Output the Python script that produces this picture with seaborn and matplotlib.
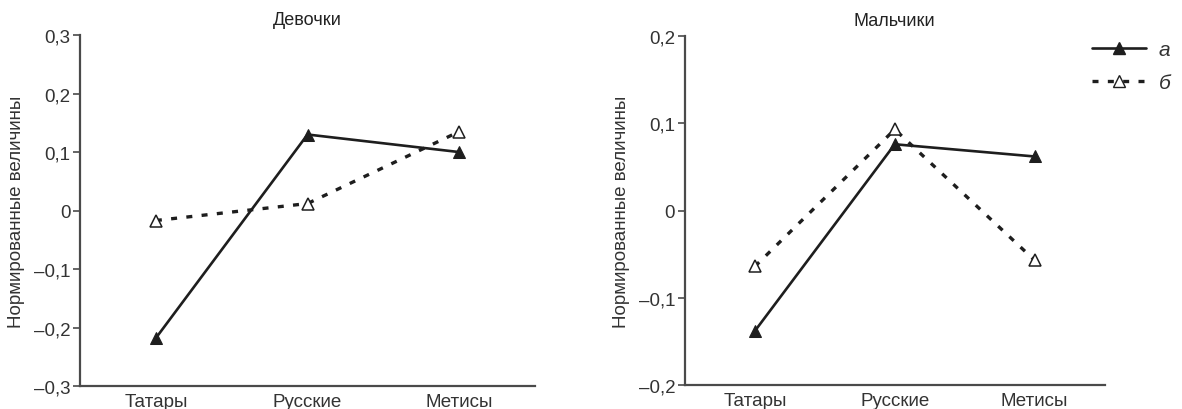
import pandas as pd
import matplotlib.pyplot as plt
import matplotlib.ticker as ticker
import seaborn as sns
from matplotlib.lines import Line2D

# Нормированные величины по группам (а — сплошная, б — пунктир)
groups = ["Татары", "Русские", "Метисы"]
girls_a = [-0.218, 0.130, 0.100]
girls_b = [-0.017, 0.012, 0.135]
boys_a = [-0.138, 0.076, 0.062]
boys_b = [-0.064, 0.093, -0.057]

sns.set_style("white")
plt.rcParams["font.family"] = ["Liberation Sans", "DejaVu Sans"]

INK = "#1e1e1e"
GRAY = "#4a4a4a"
FS = 13.5
MS = 9


def fmt(v, _):
    if abs(v) < 1e-9:
        return "0"
    s = f"{abs(v):.1f}".replace(".", ",")
    return ("–" if v < 0 else "") + s


def draw(ax, a, b, title, lim, step):
    df_a = pd.DataFrame({"group": groups, "value": a})
    df_b = pd.DataFrame({"group": groups, "value": b})
    sns.lineplot(data=df_b, x="group", y="value", ax=ax, color=INK, lw=2.4,
                 linestyle=(0, (1.8, 2.8)), marker="^", markersize=MS,
                 markerfacecolor="white", markeredgecolor=INK, markeredgewidth=1.1)
    sns.lineplot(data=df_a, x="group", y="value", ax=ax, color=INK, lw=1.9,
                 marker="^", markersize=MS, markerfacecolor=INK,
                 markeredgecolor=INK)
    ax.set_xlim(-0.5, 2.5)
    ax.set_ylim(-lim, lim)
    ax.yaxis.set_major_locator(ticker.MultipleLocator(step))
    ax.yaxis.set_major_formatter(ticker.FuncFormatter(fmt))
    ax.set_title(title, fontsize=13, color="#222", pad=8)
    ax.set_xlabel("")
    ax.set_ylabel("Нормированные величины", fontsize=FS, color="#333", labelpad=6)
    for s in ["top", "right"]:
        ax.spines[s].set_visible(False)
    for s in ["left", "bottom"]:
        ax.spines[s].set_color(GRAY)
        ax.spines[s].set_linewidth(1.6)
    ax.tick_params(axis="y", direction="out", length=5, width=1.2, color=GRAY,
                   labelsize=FS, labelcolor="#333", left=True, pad=2)
    ax.tick_params(axis="x", length=0, labelsize=FS, labelcolor="#333", pad=5)


fig = plt.figure(figsize=(11.82, 4.10), dpi=100)
ax1 = fig.add_axes([0.0677, 0.056, 0.385, 0.856])
ax2 = fig.add_axes([0.5795, 0.0585, 0.355, 0.851])

draw(ax1, girls_a, girls_b, "Девочки", 0.3, 0.1)
draw(ax2, boys_a, boys_b, "Мальчики", 0.2, 0.1)

handles = [
    Line2D([], [], color=INK, lw=1.9, marker="^", markersize=MS, markerfacecolor=INK),
    Line2D([], [], color=INK, lw=2.4, linestyle=(0, (1.8, 2.8)), marker="^",
           markersize=MS, markerfacecolor="white"),
]
leg = fig.legend(handles, ["а", "б"], loc="upper right", bbox_to_anchor=(1.006, 0.945),
                 frameon=False, handlelength=2.6, labelspacing=0.68, fontsize=15,
                 handletextpad=0.6)
for t in leg.get_texts():
    t.set_fontstyle("italic")
    t.set_color("#333")

fig.savefig("out.png", dpi=100)
